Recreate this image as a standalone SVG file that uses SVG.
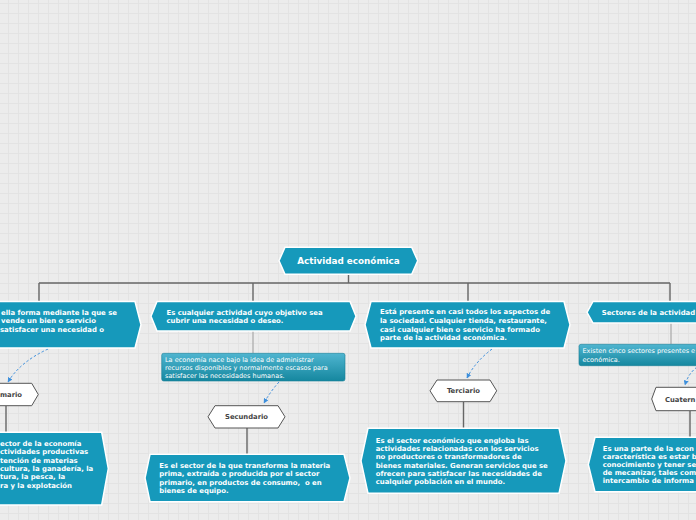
<svg xmlns="http://www.w3.org/2000/svg" width="696" height="520" viewBox="0 0 696 520">
<style>
.box{fill:#1699bb;stroke:#ffffff;stroke-width:1.5}
.hex{fill:#ffffff;stroke:#555555;stroke-width:1}
.note{fill:url(#ng);stroke:#1a7f99;stroke-width:0.6}
.t{font-family:"DejaVu Sans",Verdana,sans-serif;font-weight:bold;font-size:6.9px;fill:#ffffff}
.root{font-family:"DejaVu Sans",Verdana,sans-serif;font-weight:bold;font-size:8.8px;fill:#ffffff}
.h{font-family:"DejaVu Sans",Verdana,sans-serif;font-weight:bold;font-size:6.8px;fill:#444444}
.n{font-family:"DejaVu Sans",Verdana,sans-serif;font-size:6.5px;fill:#ffffff}
.c{stroke:#666666;stroke-width:1.4;fill:none}
.cl{stroke:#a8a8a8;stroke-width:1.2;fill:none}
.d{stroke:#3d8fdc;stroke-width:1;stroke-dasharray:2.5 2;fill:none;marker-end:url(#ah)}
</style>
<defs>
<pattern id="grid" patternUnits="userSpaceOnUse" x="8" y="3" width="10" height="10">
<rect width="10" height="10" fill="#ececec"/>
<path d="M0 0.5H10M0.5 0V10" stroke="#e3e3e3" stroke-width="1"/>
</pattern>
<linearGradient id="ng" x1="0" y1="0" x2="0" y2="1">
<stop offset="0" stop-color="#4fb5d0"/>
<stop offset="1" stop-color="#15879f"/>
</linearGradient>
<marker id="ah" viewBox="0 0 10 10" refX="9" refY="5" markerWidth="5" markerHeight="5" orient="auto" markerUnits="userSpaceOnUse">
<path d="M0 0L10 5L0 10z" fill="#3d8fdc"/>
</marker>
</defs>
<rect width="696" height="520" fill="url(#grid)"/>

<g id="connectors">
<path class="c" d="M348.5 274V283"/>
<path class="c" d="M39 283H670"/>
<path class="c" d="M39 283V301"/>
<path class="c" d="M253 283V301"/>
<path class="c" d="M468 283V301"/>
<path class="c" d="M670 283V301"/>
<path class="cl" d="M253 331V353"/>
<path class="cl" d="M671 323V344"/>
<path class="c" d="M6 406V432"/>
<path class="c" d="M247 428V454"/>
<path class="c" d="M463.5 402V428"/>
<path class="c" d="M690 411V437"/>
<path class="d" d="M48 349Q20 362 8 382"/>
<path class="d" d="M279 382Q270 392 264 403"/>
<path class="d" d="M492 349Q475 362 467 378"/>
<path class="d" d="M697 367Q688 374 685 385"/>
</g>

<g id="root">
<path class="box" d="M279 260.8L285 247.3H411.7L417.7 260.8L411.7 274.3H285Z"/>
<text class="root" x="348.5" y="264" text-anchor="middle">Actividad económica</text>
</g>

<g id="n1">
<path class="box" d="M-80 301.5H135L141 324.7L135 348H-80Z"/>
<text class="t"><tspan x="1" y="314.8">ella forma mediante la que se</tspan><tspan x="1" y="323.2">vende un bien o servicio</tspan><tspan x="0" y="331.8">satisfacer una necesidad o</tspan></text>
</g>

<g id="n2">
<path class="box" d="M151 316.2L157 301.5H350L356 316.2L350 331H157Z"/>
<text class="t"><tspan x="166.5" y="314.8">Es cualquier actividad cuyo objetivo sea</tspan><tspan x="166.5" y="323">cubrir una necesidad o deseo.</tspan></text>
</g>

<g id="n3">
<path class="box" d="M365 324.7L371 301.5H564L570 324.7L564 348H371Z"/>
<text class="t"><tspan x="380" y="314.3">Está presente en casi todos los aspectos de</tspan><tspan x="380" y="322.9">la sociedad. Cualquier tienda, restaurante,</tspan><tspan x="380" y="331.6">casi cualquier bien o servicio ha formado</tspan><tspan x="380" y="340.2">parte de la actividad económica.</tspan></text>
</g>

<g id="n4">
<path class="box" d="M587 312.3L593 301.5H760V323H593Z"/>
<text class="t" x="601.7" y="314.6">Sectores de la actividad</text>
</g>

<g id="note2">
<rect class="note" x="161.7" y="353.3" width="183.3" height="27.7" rx="2"/>
<text class="n"><tspan x="165" y="362.3">La economía nace bajo la idea de administrar</tspan><tspan x="165" y="370">recursos disponibles y normalmente escasos para</tspan><tspan x="165" y="378">satisfacer las necesidades humanas.</tspan></text>
</g>

<g id="note4">
<rect class="note" x="579" y="344.3" width="140" height="21.4" rx="2"/>
<text class="n"><tspan x="582.5" y="353.3">Existen cinco sectores presentes e</tspan><tspan x="582.5" y="362">económica.</tspan></text>
</g>

<g id="primario">
<path class="hex" d="M-30 383.3H31.7L38.3 394.5L31.7 405.7H-30Z"/>
<text class="h" x="0" y="397">mario</text>
</g>

<g id="secundario">
<path class="hex" d="M208 416.8L215 405.7H278L285 416.8L278 428H215Z"/>
<text class="h" x="246.5" y="419.3" text-anchor="middle">Secundario</text>
</g>

<g id="terciario">
<path class="hex" d="M430 390.8L437 380H490L496.7 390.8L490 401.7H437Z"/>
<text class="h" x="463.4" y="393.4" text-anchor="middle">Terciario</text>
</g>

<g id="cuaternario">
<path class="hex" d="M651.7 399L656 387.3H760V410.7H656Z"/>
<text class="h" x="665" y="401.5">Cuatern</text>
</g>

<g id="primario-desc">
<path class="box" d="M-80 432.3H101.7L108.3 468.6L101.7 505H-80Z"/>
<text class="t"><tspan x="0" y="445.8">ector de la economía</tspan><tspan x="0" y="454.1">ctividades productivas</tspan><tspan x="0" y="462.5">tención de materias</tspan><tspan x="0" y="470.8">cultura, la ganadería, la</tspan><tspan x="0" y="479.2">tura, la pesca, la</tspan><tspan x="0" y="487.5">ra y la explotación</tspan></text>
</g>

<g id="secundario-desc">
<path class="box" d="M145 478L150 454.3H344L350 478L344 501.7H150Z"/>
<text class="t" xml:space="preserve"><tspan x="159.3" y="467.5">Es el sector de la que transforma la materia</tspan><tspan x="159.3" y="476">prima, extraída o producida por el sector</tspan><tspan x="159.3" y="484.5">primario, en productos de consumo,  o en</tspan><tspan x="159.3" y="493">bienes de equipo.</tspan></text>
</g>

<g id="terciario-desc">
<path class="box" d="M361 460.8L368 428.3H559L566 460.8L559 493.3H368Z"/>
<text class="t"><tspan x="375.7" y="442.5">Es el sector económico que engloba las</tspan><tspan x="375.7" y="450.85">actividades relacionadas con los servicios</tspan><tspan x="375.7" y="459.2">no productores o transformadores de</tspan><tspan x="375.7" y="467.55">bienes materiales. Generan servicios que se</tspan><tspan x="375.7" y="475.9">ofrecen para satisfacer las necesidades de</tspan><tspan x="375.7" y="484.25">cualquier población en el mundo.</tspan></text>
</g>

<g id="cuaternario-desc">
<path class="box" d="M588.3 464.5L595 437.3H760V491.7H595Z"/>
<text class="t"><tspan x="602.7" y="450.8">Es una parte de la econ</tspan><tspan x="602.7" y="458.8">característica es estar b</tspan><tspan x="602.7" y="466.8">conocimiento y tener se</tspan><tspan x="602.7" y="474.8">de mecanizar, tales com</tspan><tspan x="602.7" y="482.8">intercambio de informa</tspan></text>
</g>
</svg>
